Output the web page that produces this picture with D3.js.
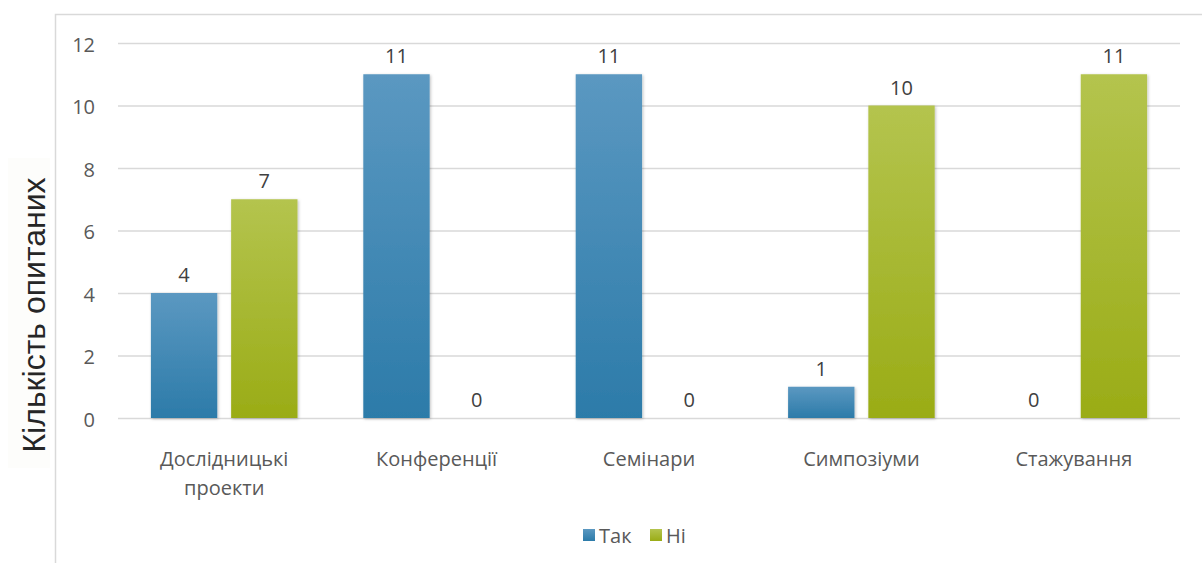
<!DOCTYPE html>
<html>
<head>
<meta charset="utf-8">
<script src="https://cdn.jsdelivr.net/npm/d3@7"></script>
<style>
  body { margin: 0; background: #fff; }
  text { font-family: "Open Sans", "Liberation Sans", sans-serif; }
</style>
</head>
<body>
<div id="chart"></div>
<script>
// categories and series
var categories = ["Дослідницькі проекти", "Конференції", "Семінари", "Симпозіуми", "Стажування"];
var seriesNames = ["Так", "Ні"];
var yesValues = [4, 11, 11, 1, 0];
var noValues = [7, 0, 0, 10, 11];
var yTicks = [0, 2, 4, 6, 8, 10, 12];

var width = 1202, height = 563;
var margin = {left: 118, right: 22, top: 43, bottom: 145};

var svg = d3.select("#chart").append("svg")
    .attr("width", width)
    .attr("height", height);

var defs = svg.append("defs");
var gradBlue = defs.append("linearGradient").attr("id", "gBlue")
    .attr("x1", 0).attr("y1", 0).attr("x2", 0).attr("y2", 1);
gradBlue.append("stop").attr("offset", "0%").attr("stop-color", "#5b98c1");
gradBlue.append("stop").attr("offset", "100%").attr("stop-color", "#2c7ba9");
var gradGreen = defs.append("linearGradient").attr("id", "gGreen")
    .attr("x1", 0).attr("y1", 0).attr("x2", 0).attr("y2", 1);
gradGreen.append("stop").attr("offset", "0%").attr("stop-color", "#b4c44e");
gradGreen.append("stop").attr("offset", "100%").attr("stop-color", "#9aac16");
var shadow = defs.append("filter").attr("id", "shadow")
    .attr("x", "-10%").attr("y", "-10%").attr("width", "130%").attr("height", "130%");
shadow.append("feDropShadow").attr("dx", 1).attr("dy", 1).attr("stdDeviation", 1.5)
    .attr("flood-color", "#000").attr("flood-opacity", 0.25);

// chart frame (runs off the right/bottom of the picture)
svg.append("path")
    .attr("d", "M" + 55.5 + "," + (height + 2) + "V14.5H" + (width + 2))
    .attr("fill", "none")
    .attr("stroke", "#d9d9d9")
    .attr("stroke-width", 1.5);

var x = d3.scaleBand()
    .domain(categories)
    .range([margin.left, width - margin.right]);

var y = d3.scaleLinear()
    .domain([0, 12])
    .range([height - margin.bottom, margin.top]);

// gridlines
var yAxis = d3.axisLeft(y)
    .tickValues(yTicks)
    .tickSize(-(width - margin.left - margin.right))
    .tickPadding(23);

var gY = svg.append("g")
    .attr("transform", "translate(" + margin.left + ",0)")
    .call(yAxis);
gY.select(".domain").remove();
gY.selectAll(".tick line").attr("stroke", "#d9d9d9").attr("stroke-width", 1.5);
gY.selectAll(".tick text")
    .attr("fill", "#595959")
    .attr("font-size", "20px")
    .attr("dy", "0.4em");

var xInner = d3.scaleBand()
    .domain(seriesNames)
    .range([0, x.bandwidth()])
    .paddingInner(0.173)
    .paddingOuter(0.41);

var data = [];
categories.forEach(function(c, i) {
    data.push({cat: c, s: "Так", v: yesValues[i]});
    data.push({cat: c, s: "Ні", v: noValues[i]});
});

var bars = svg.append("g");
bars.selectAll("rect")
    .data(data.filter(function(d) { return d.v > 0; }))
    .enter().append("rect")
    .attr("x", function(d) { return x(d.cat) + xInner(d.s); })
    .attr("y", function(d) { return y(d.v); })
    .attr("width", xInner.bandwidth())
    .attr("height", function(d) { return y(0) - y(d.v); })
    .attr("fill", function(d) { return d.s === "Так" ? "url(#gBlue)" : "url(#gGreen)"; })
    .attr("filter", "url(#shadow)");

// value labels
svg.append("g").selectAll("text")
    .data(data)
    .enter().append("text")
    .attr("x", function(d) { return x(d.cat) + xInner(d.s) + xInner.bandwidth() / 2; })
    .attr("y", function(d) { return y(d.v) - 11; })
    .attr("text-anchor", "middle")
    .attr("font-size", "20px")
    .attr("fill", "#404040")
    .text(function(d) { return d.v; });

// category labels
var catLabels = svg.append("g").selectAll("text")
    .data(categories)
    .enter().append("text")
    .attr("x", function(d) { return x(d) + x.bandwidth() / 2; })
    .attr("y", 466)
    .attr("text-anchor", "middle")
    .attr("font-size", "20px")
    .attr("fill", "#595959");
catLabels.each(function(d) {
    var words = d.split(" ");
    var t = d3.select(this);
    words.forEach(function(w, i) {
        t.append("tspan")
            .attr("x", x(d) + x.bandwidth() / 2)
            .attr("dy", i === 0 ? 0 : 29)
            .text(w);
    });
});

// y axis title
svg.append("rect")
    .attr("x", 8).attr("y", 158).attr("width", 42).attr("height", 310)
    .attr("fill", "#fdfdfb");
svg.append("text")
    .attr("transform", "translate(45,315) rotate(-90)")
    .attr("text-anchor", "middle")
    .attr("font-size", "32px")
    .attr("fill", "#262626")
    .style("font-family", "'Liberation Sans', Arial, sans-serif")
    .text("Кількість опитаних");

// legend
var legend = svg.append("g").attr("transform", "translate(583,529)");
var legendItems = [
    {name: seriesNames[0], fill: "url(#gBlue)", dx: 0},
    {name: seriesNames[1], fill: "url(#gGreen)", dx: 67}
];
legendItems.forEach(function(it) {
    var g = legend.append("g").attr("transform", "translate(" + it.dx + ",0)");
    g.append("rect").attr("width", 12).attr("height", 12).attr("fill", it.fill);
    g.append("text")
        .attr("x", 16).attr("y", 14)
        .attr("font-size", "20px")
        .attr("fill", "#595959")
        .text(it.name);
});
</script>
</body>
</html>
